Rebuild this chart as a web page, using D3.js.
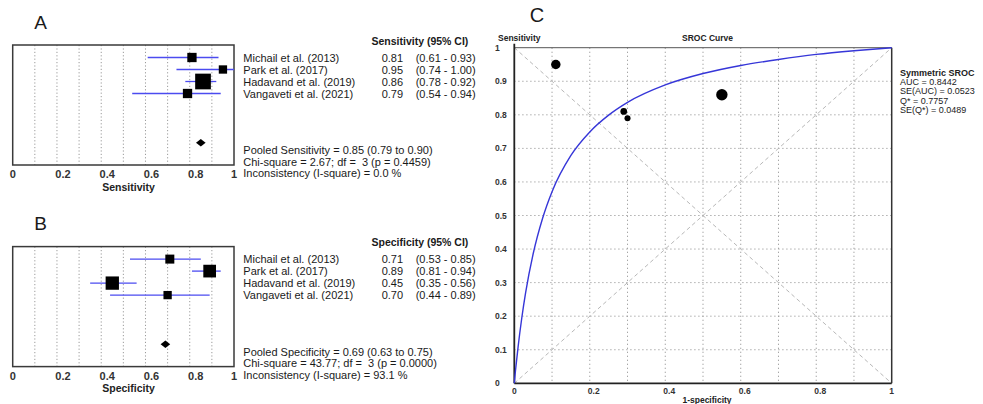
<!DOCTYPE html>
<html>
<head>
<meta charset="utf-8">
<script src="https://cdn.jsdelivr.net/npm/d3@7"></script>
<style>
  html, body { margin: 0; padding: 0; background: #fff; }
  svg { display: block; font-family: "Liberation Sans", Arial, sans-serif; }
</style>
</head>
<body>
<svg id="chart" width="983" height="404"></svg>
<script>
// ---------------- data ----------------
const studies = ["Michail et al. (2013)", "Park et al. (2017)", "Hadavand et al. (2019)", "Vangaveti et al. (2021)"];
const sensValues = [0.81, 0.95, 0.86, 0.79];
const sensLower  = [0.61, 0.74, 0.78, 0.54];
const sensUpper  = [0.93, 1.00, 0.92, 0.94];
const sensWeight = [17.7, 14.2, 50.5, 17.7];
const specValues = [0.71, 0.89, 0.45, 0.70];
const specLower  = [0.53, 0.81, 0.35, 0.44];
const specUpper  = [0.85, 0.94, 0.56, 0.89];
const specWeight = [16.6, 33.0, 36.3, 14.1];
const pooledSens = 0.85;
const pooledSpec = 0.69;
const sensSummary = ["Pooled Sensitivity = 0.85 (0.79 to 0.90)", "Chi-square = 2.67; df =  3 (p = 0.4459)", "Inconsistency (I-square) = 0.0 %"];
const specSummary = ["Pooled Specificity = 0.69 (0.63 to 0.75)", "Chi-square = 43.77; df =  3 (p = 0.0000)", "Inconsistency (I-square) = 93.1 %"];
const forestTicks = [0, 0.2, 0.4, 0.6, 0.8, 1];
const forestGrid = [0.1, 0.2, 0.3, 0.4, 0.5, 0.6, 0.7, 0.8, 0.9];

// SROC panel
const rocWeight = [11, 22, 32, 9];
const srocFpr = [0, 0.002, 0.005, 0.01, 0.02, 0.03, 0.05, 0.075, 0.1, 0.15, 0.2, 0.25, 0.3, 0.4, 0.5, 0.6, 0.7, 0.8, 0.9, 1];
const srocTpr = [0, 0.025, 0.057, 0.108, 0.196, 0.270, 0.386, 0.492, 0.571, 0.679, 0.749, 0.799, 0.837, 0.889, 0.923, 0.947, 0.965, 0.980, 0.991, 1];
const srocTicksX = [0, 0.2, 0.4, 0.6, 0.8, 1];
const srocTicksY = [0, 0.1, 0.2, 0.3, 0.4, 0.5, 0.6, 0.7, 0.8, 0.9, 1];
const srocGrid = [0.1, 0.2, 0.3, 0.4, 0.5, 0.6, 0.7, 0.8, 0.9];
const srocLegend = ["Symmetric SROC", "AUC = 0.8442", "SE(AUC) = 0.0523", "Q* = 0.7757", "SE(Q*) = 0.0489"];

// ---------------- drawing ----------------
const svg = d3.select("#chart");
svg.append("rect").attr("width", 983).attr("height", 404).attr("fill", "#fff");

const ciColor = "#4b4bf0";
const txt = "#1a1a1a";

function forest(dy, letter, values, lower, upper, weights, pooled, header, axisTitle, summary) {
  const g = svg.append("g").attr("transform", `translate(0,${dy})`);
  const left = 12.7, right = 234, top = 45, bottom = 165;
  const x = d3.scaleLinear().domain([0, 1]).range([left, right]);
  const y = d3.scalePoint().domain(studies).range([57.5, 93.5]);
  const side = d3.scaleSqrt().domain([0, 50.5]).range([0, 15.7]);

  g.append("text").attr("x", 40.5).attr("y", 28.5).attr("text-anchor", "middle")
    .attr("font-size", 19).attr("fill", txt).text(letter);

  // grid
  g.selectAll("line.grid").data(forestGrid).join("line")
    .attr("x1", d => x(d)).attr("x2", d => x(d)).attr("y1", top).attr("y2", bottom)
    .attr("stroke", "#9a9a9a").attr("stroke-width", 1).attr("stroke-dasharray", "1.2,2.2");

  // frame
  g.append("rect").attr("x", left).attr("y", top).attr("width", right - left).attr("height", bottom - top)
    .attr("fill", "none").attr("stroke", "#3a3a3a").attr("stroke-width", 1.5);

  // CI lines
  g.selectAll("line.ci").data(studies).join("line")
    .attr("x1", (d, i) => x(lower[i])).attr("x2", (d, i) => x(upper[i]))
    .attr("y1", d => y(d)).attr("y2", d => y(d))
    .attr("stroke", ciColor).attr("stroke-width", 1.3);

  // squares
  g.selectAll("rect.sq").data(studies).join("rect")
    .attr("x", (d, i) => x(values[i]) - side(weights[i]) / 2)
    .attr("y", (d, i) => y(d) - side(weights[i]) / 2)
    .attr("width", (d, i) => side(weights[i]))
    .attr("height", (d, i) => side(weights[i]))
    .attr("fill", "#000");

  // pooled diamond
  const px = x(pooled), py = 142.7;
  g.append("path").attr("d", `M${px - 4.8},${py} L${px},${py - 3.8} L${px + 4.8},${py} L${px},${py + 3.8} Z`).attr("fill", "#000");

  // axis tick labels
  g.selectAll("text.tick").data(forestTicks).join("text")
    .attr("x", d => x(d) + ((d > 0 && d < 1) ? 6 : 0)).attr("y", 178)
    .attr("text-anchor", "middle").attr("font-size", 11).attr("font-weight", "bold").attr("fill", "#333")
    .text(d => d3.format("~g")(d));
  g.append("text").attr("x", 128.5).attr("y", 190.5).attr("text-anchor", "middle")
    .attr("font-size", 10.5).attr("font-weight", "bold").attr("fill", "#222").text(axisTitle);

  // right-hand text table
  g.append("text").attr("x", 371.5).attr("y", 44.5).attr("font-size", 10.5).attr("font-weight", "bold")
    .attr("fill", txt).text(header);
  g.selectAll("text.name").data(studies).join("text")
    .attr("x", 243.3).attr("y", d => y(d) + 4).attr("font-size", 11).attr("fill", txt).text(d => d);
  g.selectAll("text.val").data(studies).join("text")
    .attr("x", 381.7).attr("y", d => y(d) + 4).attr("font-size", 11).attr("fill", txt)
    .text((d, i) => d3.format(".2f")(values[i]));
  g.selectAll("text.ci").data(studies).join("text")
    .attr("x", 415.7).attr("y", d => y(d) + 4).attr("font-size", 11).attr("fill", txt)
    .text((d, i) => `(${d3.format(".2f")(lower[i])} - ${d3.format(".2f")(upper[i])})`);
  const sy = [150, 161.5, 173.3];
  g.selectAll("text.sum").data(summary).join("text")
    .attr("x", 243.3).attr("y", (d, i) => sy[i] + 4).attr("font-size", 11).attr("fill", txt)
    .attr("xml:space", "preserve").style("white-space", "pre").text(d => d);
}

forest(0, "A", sensValues, sensLower, sensUpper, sensWeight, pooledSens, "Sensitivity (95% CI)", "Sensitivity", sensSummary);
forest(201.6, "B", specValues, specLower, specUpper, specWeight, pooledSpec, "Specificity (95% CI)", "Specificity", specSummary);

// ---------------- SROC ----------------
(function () {
  const g = svg.append("g");
  const left = 514.3, right = 891.7, top = 47.7, bottom = 383.3;
  const x = d3.scaleLinear().domain([0, 1]).range([left, right]);
  const y = d3.scaleLinear().domain([0, 1]).range([bottom, top]);
  const r = d3.scaleSqrt().domain([0, 32]).range([0, 5.7]);

  g.append("text").attr("x", 537).attr("y", 22).attr("text-anchor", "middle")
    .attr("font-size", 20).attr("fill", txt).text("C");

  // grid
  g.selectAll("line.gx").data(srocGrid).join("line")
    .attr("x1", d => x(d)).attr("x2", d => x(d)).attr("y1", top).attr("y2", bottom)
    .attr("stroke", "#9a9a9a").attr("stroke-dasharray", "1.2,2.8");
  g.selectAll("line.gy").data(srocGrid).join("line")
    .attr("x1", left).attr("x2", right).attr("y1", d => y(d)).attr("y2", d => y(d))
    .attr("stroke", "#9a9a9a").attr("stroke-dasharray", "1.2,2.8");

  // diagonals
  g.append("line").attr("x1", x(0)).attr("y1", y(0)).attr("x2", x(1)).attr("y2", y(1))
    .attr("stroke", "#b8b8b8").attr("stroke-dasharray", "4,3");
  g.append("line").attr("x1", x(0)).attr("y1", y(1)).attr("x2", x(1)).attr("y2", y(0))
    .attr("stroke", "#b8b8b8").attr("stroke-dasharray", "4,3");

  // frame
  g.append("line").attr("x1", left).attr("x2", right).attr("y1", top).attr("y2", top)
    .attr("stroke", "#555").attr("stroke-width", 1);
  g.append("line").attr("x1", right).attr("x2", right).attr("y1", top).attr("y2", bottom)
    .attr("stroke", "#333").attr("stroke-width", 1.5);
  g.append("line").attr("x1", left).attr("x2", left).attr("y1", top - 4).attr("y2", bottom)
    .attr("stroke", "#222").attr("stroke-width", 1.8);
  g.append("line").attr("x1", left).attr("x2", right).attr("y1", bottom).attr("y2", bottom)
    .attr("stroke", "#222").attr("stroke-width", 1.8);

  // curve
  const pts = srocFpr.map((f, i) => [f, srocTpr[i]]);
  g.append("path").datum(pts)
    .attr("d", d3.line().x(d => x(d[0])).y(d => y(d[1])).curve(d3.curveMonotoneX))
    .attr("fill", "none").attr("stroke", "#3636d8").attr("stroke-width", 1.4);

  // points
  g.selectAll("circle.pt").data(studies).join("circle")
    .attr("cx", (d, i) => x(1 - specValues[i]))
    .attr("cy", (d, i) => y(sensValues[i]))
    .attr("r", (d, i) => r(rocWeight[i]))
    .attr("fill", "#000");

  // tick labels
  g.selectAll("text.ty").data(srocTicksY).join("text")
    .attr("x", 495).attr("y", d => y(d) + 3).attr("font-size", 8.5).attr("font-weight", "bold")
    .attr("fill", "#333").text(d => d3.format("~g")(d));
  g.selectAll("text.tx").data(srocTicksX).join("text")
    .attr("x", d => x(d) + ((d > 0 && d < 1) ? 4 : 0)).attr("y", 394)
    .attr("text-anchor", "middle").attr("font-size", 8.5).attr("font-weight", "bold")
    .attr("fill", "#333").text(d => d3.format("~g")(d));

  g.append("text").attr("x", 707).attr("y", 402.5).attr("text-anchor", "middle")
    .attr("font-size", 8.5).attr("font-weight", "bold").attr("fill", "#222").text("1-specificity");
  g.append("text").attr("x", 498).attr("y", 40.5)
    .attr("font-size", 8.5).attr("font-weight", "bold").attr("fill", "#222").text("Sensitivity");
  g.append("text").attr("x", 707.5).attr("y", 40.5).attr("text-anchor", "middle")
    .attr("font-size", 8.5).attr("font-weight", "bold").attr("fill", "#222").text("SROC Curve");

  // legend
  const ly = [72.7, 82, 91.3, 100.6, 110];
  g.selectAll("text.lg").data(srocLegend).join("text")
    .attr("x", 900).attr("y", (d, i) => ly[i] + 3)
    .attr("font-size", 9).attr("font-weight", (d, i) => i === 0 ? "bold" : "normal")
    .attr("fill", "#222").text(d => d);
})();
</script>
</body>
</html>
